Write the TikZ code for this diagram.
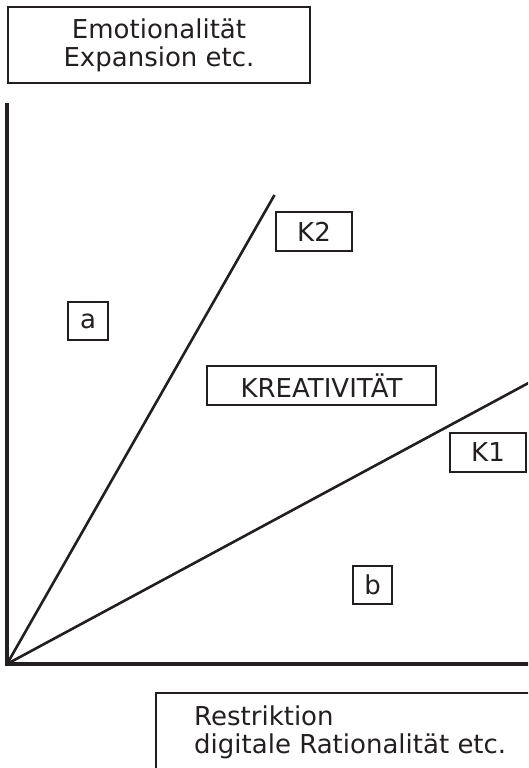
\documentclass[tikz,border=0pt]{standalone}
\usepackage{fontspec}
\setmainfont{DejaVu Sans}
\definecolor{ink}{HTML}{231F20}
\begin{document}
\begin{tikzpicture}[x=1pt,y=-1pt,
  every node/.style={font=\fontsize{26}{28}\selectfont, text=ink},
  lbox/.style={draw=ink, line width=2.2pt, inner sep=0pt, minimum width=#1, minimum height=38},
  lbox/.default=76,
  axis/.style={draw=ink, line width=3.2pt},
  ray/.style={draw=ink, line width=2.6pt}]
  \useasboundingbox (0,0) rectangle (528,768);
  \clip (0,0) rectangle (528,768);

  % reference points
  \coordinate (O) at (7,664);
  \coordinate (ytop) at (7,105);
  \coordinate (xend) at (540,664);
  \coordinate (k2end) at (274.5,195);
  \coordinate (k1end) at (560,366);

  % axes and the two boundary rays
  \draw[axis, line cap=rect] (ytop) -- (O) -- (xend);
  \draw[ray] (O) -- (k2end);
  \draw[ray] (O) -- (k1end);

  % labels
  \node[lbox=302, minimum height=76, align=center] (emo) at (159,45)
    {Emotionalität\\Expansion etc.};
  \node[lbox=40] (a) at (88,321) {a};
  \node[lbox=76, minimum height=39] (k2) at (314,231.5) {K2};
  \node[lbox=229, minimum height=39] (kreat) at (321.5,385.5) {KREATIVITÄT};
  \node[lbox=76, minimum height=39] (k1) at (488,452.5) {K1};
  \node[lbox=39] (b) at (372.5,585) {b};

  % lower box, running off the right and bottom edges
  \draw[draw=ink, line width=2.2pt] (560,693) -| (156,800);
  \node[anchor=base west, inner sep=0pt] (restr) at (194,725)
    {Restriktion};
  \node[anchor=base west, inner sep=0pt] (digi) at (194,753)
    {digitale Rationalität etc.};
\end{tikzpicture}
\end{document}
